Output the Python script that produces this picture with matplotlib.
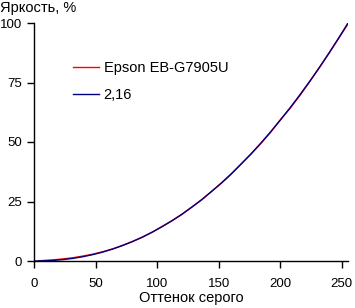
import matplotlib.pyplot as plt

plt.rcParams["font.family"] = ["Liberation Sans", "DejaVu Sans"]
plt.rcParams["font.size"] = 10

# оттенок серого и яркость, %
gray_ref = [0, 8, 16, 24, 32, 40, 48, 56, 64, 72, 80, 88, 96, 104, 112, 120, 128,
            136, 144, 152, 160, 168, 176, 184, 192, 200, 208, 216, 224, 232, 240, 248, 255]
gamma_216 = [0, 0.06, 0.25, 0.61, 1.13, 1.83, 2.71, 3.78, 5.05, 6.51, 8.18, 10.04, 12.12,
             14.41, 16.91, 19.63, 22.57, 25.72, 29.11, 32.71, 36.54, 40.60, 44.89, 49.42,
             54.17, 59.18, 64.40, 69.88, 75.58, 81.53, 87.73, 94.17, 100]

gray_meas = [4, 16, 24, 32, 40, 48, 56, 64, 72, 80, 88, 96, 104, 112, 120, 128,
             136, 144, 152, 160, 168, 176, 184, 192, 200, 208, 216, 224, 232, 240, 248, 255]
epson = [0.1, 0.5, 0.9, 1.4, 2.1, 2.9, 3.9, 5.1, 6.6, 8.2, 10.0, 12.1, 14.5, 16.9, 19.5,
         22.6, 25.6, 29.2, 32.6, 36.4, 40.7, 44.8, 49.2, 54.0, 59.3, 64.2, 69.6, 75.4,
         81.4, 87.6, 94.0, 99.6]

x_ticks = [0, 50, 100, 150, 200, 250]
y_ticks = [0, 25, 50, 75, 100]

fig = plt.figure(figsize=(3.55, 3.08), dpi=100)
ax = fig.add_axes([34 / 355, 47 / 308, 314 / 355, 238 / 308])

ax.plot(gray_meas, epson, color="#ff0000", lw=1, label="Epson EB-G7905U")
ax.plot(gray_ref, gamma_216, color="#000080", lw=1, label="2,16")

ax.set_xlim(0, 255)
ax.set_ylim(0, 100)
ax.set_xticks(x_ticks)
ax.set_yticks(y_ticks)
ax.spines["top"].set_visible(False)
ax.spines["right"].set_visible(False)
for s in ("left", "bottom"):
    ax.spines[s].set_linewidth(1)
ax.tick_params(direction="out", length=5, width=1, colors="black", labelsize=9.5)
ax.tick_params(axis="y", pad=3.5)
ax.tick_params(axis="x", pad=7)

ax.set_xlabel("Оттенок серого", labelpad=1, fontsize=10.5)
fig.text(0, 1 - 8 / 308, "Яркость, %", ha="left", va="center", fontsize=10.5)

ax.legend(frameon=False, loc="upper left", bbox_to_anchor=(73 / 355, 1 - 61 / 308),
          bbox_transform=fig.transFigure, borderpad=0, borderaxespad=0, fontsize=10.5,
          handlelength=1.75, handletextpad=0.35, labelspacing=0.9)

fig.savefig("out.png", dpi=100)
